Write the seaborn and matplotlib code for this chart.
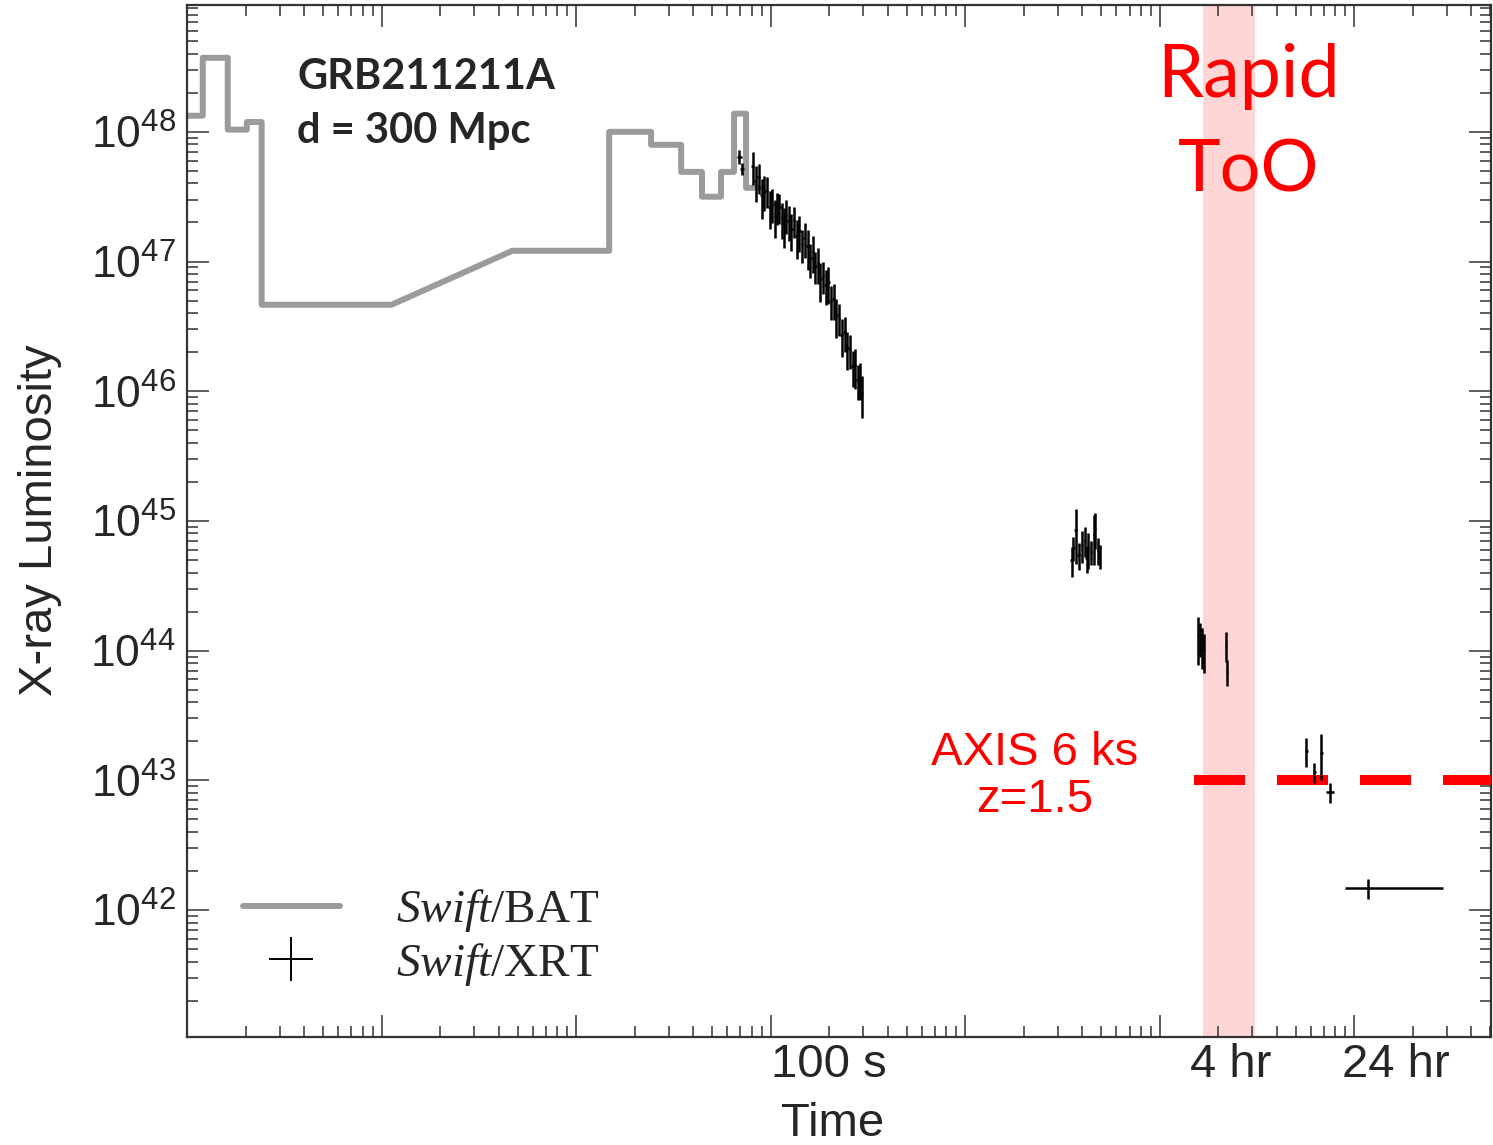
import numpy as np
import pandas as pd
import matplotlib
matplotlib.use("Agg")
import matplotlib.pyplot as plt
import matplotlib.transforms as mtransforms
from matplotlib.ticker import LogLocator, FuncFormatter, NullFormatter
from matplotlib.lines import Line2D
import seaborn as sns

# ---------------- data ----------------
# Swift/BAT binned light curve (bin start, bin stop [s], luminosity [erg/s])
bat_start = [0.09, 0.1205, 0.162, 0.203, 0.242, 4.70, 14.8, 24.3, 34.7, 44.4, 55.6, 64.9, 74.8]
bat_stop = [0.1205, 0.162, 0.203, 0.242, 1.125, 14.8, 24.3, 34.7, 44.4, 55.6, 64.9, 74.8, 87.2]
bat_L = [1.33e48, 3.72e48, 1.04e48, 1.19e48, 4.64e46, 1.21e47, 1.0e48, 7.94e47,
         4.91e47, 3.16e47, 4.91e47, 1.38e48, 3.70e47]

# Swift/XRT points: time [s], luminosity [erg/s], fractional error, time errors
xrt_t = [69, 71.5,
         81, 84, 87, 90, 93, 96, 99, 102, 105, 108, 111, 114, 117, 120,
         124, 128, 132, 136, 140, 145, 150, 155, 160, 165, 170, 175,
         180, 186, 192, 198, 204, 211, 218, 225, 232, 240, 248, 256, 264, 272, 280, 288, 295,
         3524, 3606, 3698, 3828, 3972, 4111, 4207, 4305, 4416, 4571, 4677, 4797, 4909,
         15820, 16190, 16590, 16980, 21900, 22200,
         56750, 62370, 67760, 75340,
         118000]
xrt_L = [6.41e47, 5.19e47,
         5.42e47, 4.15e47, 4.49e47, 3.25e47, 3.48e47, 3.52e47, 2.64e47, 2.79e47, 2.25e47, 2.64e47,
         2.65e47, 2.16e47, 1.94e47, 2.30e47,
         2.05e47, 1.77e47, 2.08e47, 1.57e47, 1.71e47, 1.36e47, 1.53e47, 1.31e47, 1.06e47, 1.19e47,
         9.27e46, 9.77e46,
         7.33e46, 7.78e46, 6.64e46, 6.93e46, 5.00e46, 5.12e46, 3.87e46, 3.70e46, 2.71e46, 2.86e46,
         2.16e46, 2.10e46, 1.56e46, 1.58e46, 1.23e46, 1.26e46, 9.68e45,
         5.01e44, 6.21e44, 8.53e44, 5.48e44, 6.55e44, 7.15e44, 5.19e44, 6.21e44, 5.78e44, 7.82e44,
         8.85e44, 5.98e44, 5.38e44,
         1.30e44, 1.26e44, 1.11e44, 1.01e44, 1.11e44, 6.87e43,
         1.69e43, 1.16e43, 1.63e43, 8.15e42,
         1.48e42]
xrt_frac = [0.12, 0.10,
            0.28, 0.31, 0.26, 0.34, 0.30, 0.27, 0.32, 0.29, 0.33, 0.28,
            0.26, 0.31, 0.34, 0.29, 0.30, 0.32, 0.27, 0.33, 0.31, 0.28,
            0.30, 0.34, 0.29, 0.32, 0.27, 0.31, 0.33, 0.28, 0.30, 0.32,
            0.29, 0.31, 0.34, 0.28, 0.32, 0.30, 0.33, 0.29, 0.31, 0.34,
            0.30, 0.32, 0.36,
            0.26, 0.21, 0.45, 0.24, 0.28, 0.26, 0.24, 0.31, 0.21, 0.42, 0.31, 0.24, 0.21,
            0.40, 0.29, 0.355, 0.34, 0.26, 0.226,
            0.244, 0.176, 0.387, 0.176,
            0.176]
xrt_tlo = ([2, 1.5] + [1.5] * 14 + [2] * 4 + [2.5] * 8 + [3] * 4 + [3.5] * 5 + [4] * 8
           + [50] * 13 + [180] * 4 + [150] * 2 + [1000, 1000, 1000, 3600] + [28000])
xrt_thi = ([2, 1.5] + [1.5] * 14 + [2] * 4 + [2.5] * 8 + [3] * 4 + [3.5] * 5 + [4] * 8
           + [50] * 13 + [180] * 4 + [150] * 2 + [1000, 1000, 1000, 3600] + [168000])

# AXIS sensitivity and rapid ToO window
axis_L = 1e43
axis_t = [1.5e4, 6e5]
too_window = [1.68e4, 3.1e4]

# time labels
time_label_t = [100, 14400, 86400]
time_label_text = ["100 s", "4 hr", "24 hr"]
ytick_exps = [42, 43, 44, 45, 46, 47, 48]

# ---------------- style ----------------
sns.set_theme(style="ticks")
plt.rcParams["font.family"] = ["Liberation Sans", "DejaVu Sans"]
plt.rcParams["mathtext.fontset"] = "custom"
plt.rcParams["mathtext.rm"] = "Liberation Serif"
plt.rcParams["mathtext.it"] = "Liberation Serif:italic"
plt.rcParams["mathtext.bf"] = "Liberation Serif:bold"

W, H = 1493, 1145
fig = plt.figure(figsize=(W / 100, H / 100), dpi=100)
fig.patch.set_facecolor("white")
ax = fig.add_axes([187 / W, 108 / H, 1304 / W, 1032 / H])
ax.set_facecolor("white")
ax.set_xscale("log")
ax.set_yscale("log")
ax.set_xlim(0.1, 5.05e5)
ax.set_ylim(1.05e41, 9.5e48)

# ToO window
ax.axvspan(too_window[0], too_window[1], color="red", alpha=0.16, lw=0, zorder=0)

# BAT curve
bx, by = [], []
for s, e, L in zip(bat_start, bat_stop, bat_L):
    bx += [s, e]
    by += [L, L]
bat_df = pd.DataFrame({"t": bx, "L": by})
sns.lineplot(data=bat_df, x="t", y="L", sort=False, estimator=None, color="#9b9b9b",
             lw=4.3, ax=ax, solid_joinstyle="round", solid_capstyle="round", zorder=2)

# AXIS line
ax.plot(axis_t, [axis_L, axis_L], color="#ff0000", lw=7.2, linestyle=(0, (5.1, 3.2)),
        dash_capstyle="butt", zorder=3)

# XRT
xL = np.array(xrt_L)
ax.errorbar(xrt_t, xrt_L, yerr=xL * np.array(xrt_frac), xerr=[xrt_tlo, xrt_thi],
            fmt="none", ecolor="black", elinewidth=1.8, capsize=0, zorder=4)

# ticks
ax.xaxis.set_major_locator(LogLocator(base=10, numticks=20))
ax.xaxis.set_minor_locator(LogLocator(base=10, subs=np.arange(2, 10), numticks=100))
ax.xaxis.set_major_formatter(NullFormatter())
ax.xaxis.set_minor_formatter(NullFormatter())
ax.set_yticks([10.0 ** e for e in ytick_exps])
ax.yaxis.set_minor_locator(LogLocator(base=10, subs=np.arange(2, 10), numticks=100))
ax.yaxis.set_major_formatter(FuncFormatter(lambda v, p: r"$\mathregular{10^{%d}}$" % round(np.log10(v))))
ax.yaxis.set_minor_formatter(NullFormatter())
ax.tick_params(which="major", length=16, width=1.1, direction="in", top=True, right=True,
               color="#333333", labelsize=32, pad=8)
ax.tick_params(which="minor", length=8, width=1.1, direction="in", top=True, right=True,
               color="#333333")
for sp in ax.spines.values():
    sp.set_linewidth(1.6)
    sp.set_color("#333333")

trans = mtransforms.blended_transform_factory(ax.transData, ax.transAxes)
for t, lab in zip(time_label_t, time_label_text):
    ax.text(t, -0.0388, lab, transform=trans, ha="left", va="baseline", fontsize=34)

ax.set_xlabel("Time", fontsize=34, va="baseline")
ax.xaxis.set_label_coords(0.4954, -0.0955)
ax.set_ylabel("X-ray Luminosity", fontsize=34, va="center", ha="center")
ax.yaxis.set_label_coords(-0.1127, 0.501)

# annotations
ax.text(0.0844, 0.9186, "GRB211211A", transform=ax.transAxes, fontsize=30,
        fontweight="bold", family="Lato", va="baseline", ha="left")
ax.text(0.0844, 0.8663, "d = 300 Mpc", transform=ax.transAxes, fontsize=30,
        fontweight="bold", family="Lato", va="baseline", ha="left")
ax.text(0.8144, 0.9109, "Rapid", transform=ax.transAxes, fontsize=53, color="#ff0000",
        family="Lato", va="baseline", ha="center")
ax.text(0.8144, 0.8188, "ToO", transform=ax.transAxes, fontsize=52, color="#ff0000",
        family="Lato", va="baseline", ha="center")
ax.text(0.6503, 0.2636, "AXIS 6 ks", transform=ax.transAxes, fontsize=34, color="#ff0000",
        va="baseline", ha="center")
ax.text(0.6503, 0.2180, "z=1.5", transform=ax.transAxes, fontsize=34, color="#ff0000",
        va="baseline", ha="center")

# legend
h_bat = Line2D([], [], color="#9b9b9b", lw=4.3)
h_xrt = Line2D([], [], color="black", marker="+", ls="none", markersize=31, markeredgewidth=1.4)
ax.legend([h_bat, h_xrt], [r"$\mathit{Swift}$/BAT", r"$\mathit{Swift}$/XRT"],
          loc="upper left", bbox_to_anchor=(0.0429, 0.1452), frameon=False,
          prop={"family": "Liberation Serif", "size": 34}, handlelength=2.05,
          handletextpad=1.2, labelspacing=0.14, borderpad=0, borderaxespad=0)

fig.savefig("out.png", dpi=100, facecolor="white")
